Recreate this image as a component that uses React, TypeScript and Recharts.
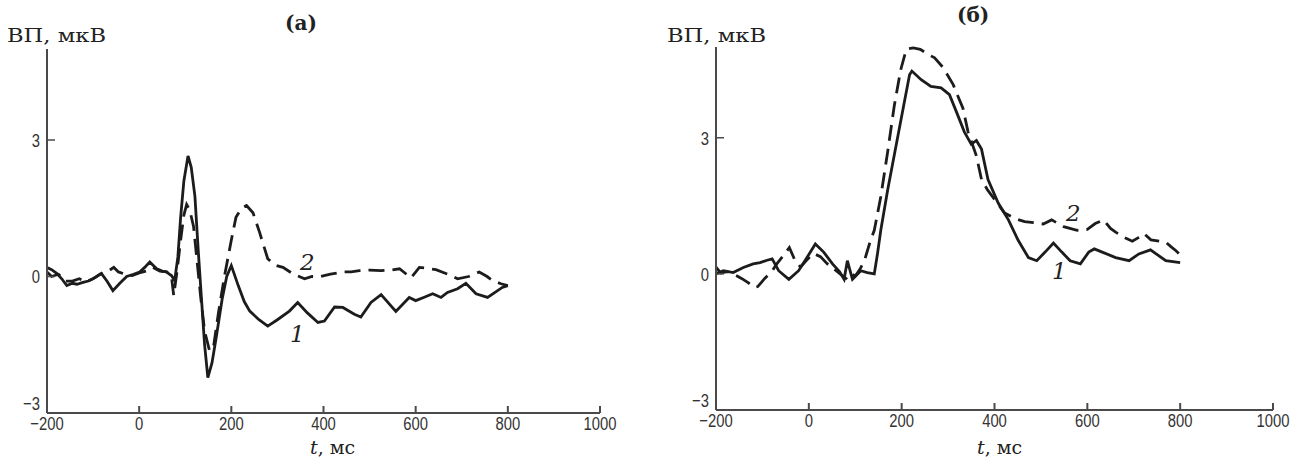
import React from "react";
import { LineChart, Line, XAxis, YAxis } from "recharts";

const xTicks = [-200, 0, 200, 400, 600, 800, 1000];
const yTicks = [-3, 0, 3];

// Panel (а): curve 1 (solid)
const aSolidT = [-200, -190, -179, -168, -157, -145, -135, -122, -110, -95, -82, -70, -57, -42, -27, -12, 1, 12, 23, 38, 50, 59, 70, 77, 84, 90, 97, 106, 113, 121, 128, 135, 142, 149, 158, 167, 180, 190, 200, 215, 228, 240, 260, 279, 300, 326, 344, 365, 388, 402, 424, 442, 467, 481, 503, 525, 557, 586, 600, 620, 637, 655, 669, 691, 709, 731, 756, 788, 800];
const aSolidV = [0.2, 0.15, 0.07, -0.05, -0.2, -0.15, -0.17, -0.13, -0.1, -0.02, 0.07, -0.1, -0.31, -0.15, 0, 0.05, 0.1, 0.2, 0.32, 0.17, 0.12, 0.1, 0.02, -0.09, 0.43, 1.3, 2.1, 2.65, 2.4, 1.76, 0.6, -0.46, -1.5, -2.22, -1.9, -1.35, -0.5, 0.0, 0.24, -0.2, -0.55, -0.76, -0.95, -1.09, -0.95, -0.76, -0.57, -0.8, -1.01, -0.98, -0.67, -0.68, -0.83, -0.89, -0.57, -0.4, -0.77, -0.46, -0.53, -0.45, -0.38, -0.46, -0.35, -0.27, -0.15, -0.38, -0.46, -0.24, -0.2];

// Panel (а): curve 2 (dashed)
const aDashT = [-200, -190, -175, -160, -145, -130, -115, -100, -85, -70, -55, -45, -30, -15, 0, 15, 30, 45, 60, 70, 75, 82, 90, 97, 103, 110, 118, 126, 134, 142, 153, 162, 172, 185, 200, 210, 222, 233, 247, 261, 279, 295, 312, 335, 359, 375, 394, 415, 441, 460, 478, 500, 525, 545, 565, 590, 608, 625, 644, 670, 691, 715, 738, 755, 767, 785, 800];
const aDashV = [0.1, 0.0, 0.05, -0.1, -0.1, -0.05, -0.12, -0.05, 0.05, 0.1, 0.2, 0.1, 0.05, 0.02, 0.08, 0.12, 0.2, 0.12, 0.1, 0.0, -0.42, 0.1, 0.8, 1.35, 1.58, 1.45, 1.1, 0.3, -0.5, -1.2, -1.64, -1.5, -0.8, 0.0, 0.8, 1.3, 1.5, 1.56, 1.4, 0.98, 0.39, 0.25, 0.2, 0.05, -0.05, 0.0, 0.0, 0.05, 0.1, 0.1, 0.13, 0.14, 0.13, 0.14, 0.17, -0.03, 0.2, 0.18, 0.15, 0.05, -0.05, 0.0, 0.1, 0.0, -0.09, -0.16, -0.2];

// Panel (б): curve 1 (solid)
const bSolidT = [-200, -184, -163, -141, -120, -105, -90, -79, -65, -43, -22, -4, 14, 32, 51, 66, 76, 83, 94, 112, 126, 141, 148, 155, 170, 188, 206, 217, 222, 242, 263, 285, 303, 318, 335, 350, 361, 372, 386, 408, 430, 451, 473, 491, 509, 527, 545, 563, 585, 603, 615, 632, 661, 690, 711, 736, 769, 800];
const bSolidV = [0.0, 0.07, 0.03, 0.14, 0.22, 0.25, 0.3, 0.33, 0.07, -0.12, 0.07, 0.36, 0.66, 0.48, 0.22, 0.05, -0.12, 0.29, -0.12, 0.07, 0.03, 0.0, 0.45, 0.96, 1.86, 2.83, 3.8, 4.39, 4.47, 4.28, 4.13, 4.1, 3.95, 3.57, 3.13, 2.86, 2.94, 2.75, 2.08, 1.56, 1.19, 0.74, 0.36, 0.29, 0.48, 0.68, 0.48, 0.29, 0.22, 0.48, 0.55, 0.48, 0.36, 0.29, 0.44, 0.53, 0.29, 0.25];

// Panel (б): curve 2 (dashed)
const bDashT = [-200, -190, -175, -160, -145, -130, -118, -110, -95, -80, -69, -55, -42, -30, -18, -5, 10, 25, 40, 55, 70, 80, 90, 100, 110, 120, 133, 141, 155, 170, 184, 198, 210, 225, 240, 255, 271, 289, 311, 332, 343, 361, 372, 385, 401, 422, 444, 465, 484, 505, 523, 549, 578, 600, 617, 635, 650, 661, 680, 697, 710, 722, 737, 755, 769, 780, 791, 800];
const bDashV = [0.15, 0.02, 0.05, -0.02, -0.1, -0.2, -0.3, -0.28, -0.1, 0.05, 0.22, 0.4, 0.58, 0.3, 0.15, 0.3, 0.45, 0.38, 0.22, 0.1, -0.02, -0.1, 0.02, -0.05, 0.1, 0.3, 0.74, 0.96, 1.7, 2.7, 3.7, 4.5, 4.95, 4.98, 4.95, 4.85, 4.76, 4.55, 4.17, 3.65, 3.13, 2.6, 2.08, 1.85, 1.63, 1.34, 1.22, 1.15, 1.13, 1.1, 1.19, 1.04, 0.96, 0.98, 1.11, 1.19, 1.0, 0.92, 0.8, 0.72, 0.8, 0.89, 0.75, 0.72, 0.7, 0.6, 0.51, 0.42];

const toPts = (t: number[], v: number[]) => t.map((x, i) => ({ t: x, v: v[i] }));
const fmt = (n: number) => (n < 0 ? "\u2212" + Math.abs(n) : String(n));

const AXIS = "#4a4a4a";
const INK = "#1c1c1c";
const SANS = "'Liberation Sans', Arial, sans-serif";
const SERIF = "'DejaVu Serif', 'Liberation Serif', serif";

function XTick(props: any) {
  const { x, y, payload } = props;
  return (
    <text
      transform={`translate(${x},${y}) scale(0.78,1)`}
      x={0}
      y={0}
      dy="0.72em"
      textAnchor="middle"
      fill="#333"
      fontSize={19}
      fontFamily={SANS}
    >
      {fmt(payload.value)}
    </text>
  );
}

function YTick(props: any) {
  const { x, y, payload } = props;
  const lift = payload.value === -3 ? -10 : 0;
  return (
    <text
      transform={`translate(${x},${y + lift}) scale(0.78,1)`}
      x={0}
      y={0}
      dy="0.36em"
      textAnchor="end"
      fill="#333"
      fontSize={19}
      fontFamily={SANS}
    >
      {fmt(payload.value)}
    </text>
  );
}

type PanelProps = {
  left: number;
  width: number;
  yAxisWidth: number;
  margin: { top: number; right: number; bottom: number; left: number };
  solid: { t: number; v: number }[];
  dashed: { t: number; v: number }[];
};

function Panel({ left, width, yAxisWidth, margin, solid, dashed }: PanelProps) {
  return (
    <div style={{ position: "absolute", left, top: 0, width, height: 462 }}>
      <LineChart width={width} height={462} margin={margin}>
        <XAxis
          dataKey="t"
          type="number"
          domain={[-200, 1000]}
          ticks={xTicks}
          allowDuplicatedCategory={false}
          height={30}
          axisLine={{ stroke: AXIS, strokeWidth: 2 }}
          tickLine={{ stroke: AXIS, strokeWidth: 2 }}
          tickSize={-7}
          tickMargin={10}
          tick={<XTick />}
          interval={0}
        />
        <YAxis
          type="number"
          domain={[-3, 5]}
          ticks={yTicks}
          width={yAxisWidth}
          axisLine={{ stroke: AXIS, strokeWidth: 2 }}
          tickLine={{ stroke: AXIS, strokeWidth: 1.5 }}
          tickSize={-8}
          tickMargin={15}
          tick={<YTick />}
          interval={0}
        />
        <Line
          data={dashed}
          dataKey="v"
          type="linear"
          stroke={INK}
          strokeWidth={2.8}
          strokeDasharray="16 8"
          dot={false}
          activeDot={false}
          isAnimationActive={false}
        />
        <Line
          data={solid}
          dataKey="v"
          type="linear"
          stroke={INK}
          strokeWidth={2.8}
          dot={false}
          activeDot={false}
          isAnimationActive={false}
        />
      </LineChart>
    </div>
  );
}

export default function App() {
  return (
    <div style={{ position: "absolute", left: 0, top: 0, width: 1302, height: 462, background: "#fff", overflow: "hidden" }}>
      <Panel
        left={0}
        width={620}
        yAxisWidth={47}
        margin={{ top: 49, right: 20, bottom: 19, left: 0 }}
        solid={toPts(aSolidT, aSolidV)}
        dashed={toPts(aDashT, aDashV)}
      />
      <Panel
        left={640}
        width={662}
        yAxisWidth={76}
        margin={{ top: 47, right: 29, bottom: 22, left: 0 }}
        solid={toPts(bSolidT, bSolidV)}
        dashed={toPts(bDashT, bDashV)}
      />
      <svg width={1302} height={462} style={{ position: "absolute", left: 0, top: 0, pointerEvents: "none" }}>
        <g fontFamily={SERIF} fill="#222">
          <text x={7} y={42} fontSize={18} textLength={99} lengthAdjust="spacingAndGlyphs">ВП, мкВ</text>
          <text x={667} y={42} fontSize={18} textLength={99} lengthAdjust="spacingAndGlyphs">ВП, мкВ</text>
          <text x={285} y={30} fontSize={20} fontWeight="bold">(а)</text>
          <text x={957} y={22} fontSize={20} fontWeight="bold">(б)</text>
          <text x={310} y={454} fontSize={19}>
            <tspan fontStyle="italic">t</tspan>, мс
          </text>
          <text x={977} y={454} fontSize={19}>
            <tspan fontStyle="italic">t</tspan>, мс
          </text>
          <text x={300} y={270} fontSize={23} fontStyle="italic">2</text>
          <text x={290} y={342} fontSize={23} fontStyle="italic">1</text>
          <text x={1066} y={221} fontSize={23} fontStyle="italic">2</text>
          <text x={1052} y={279} fontSize={23} fontStyle="italic">1</text>
        </g>
      </svg>
    </div>
  );
}
